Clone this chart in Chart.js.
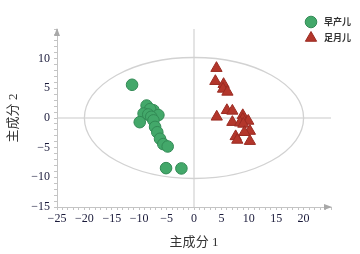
<!DOCTYPE html>
<html>
<head>
<meta charset="utf-8">
<script src="https://cdn.jsdelivr.net/npm/chart.js@4/dist/chart.umd.min.js"></script>
<style>
  html, body { margin: 0; padding: 0; background: #fff; }
  canvas { display: block; }
</style>
</head>
<body>
<canvas id="pca" width="360" height="254"></canvas>
<script>
// PCA score plot — preterm vs full-term
const seriesNames = ['早产儿', '足月儿'];

const pretermX = [-11.3, -8.65, -7.4, -8.0, -9.2, -8.35, -6.5, -7.8, -9.9, -7.4, -7.1, -6.7, -6.2, -5.6, -4.8, -5.1, -2.3];
const pretermY = [5.6, 2.1, 1.3, 1.5, 0.75, 0.6, 0.5, 0.2, -0.7, -0.4, -1.5, -2.4, -3.5, -4.4, -4.8, -8.45, -8.5];

const termX = [4.1, 3.9, 5.4, 5.3, 6.1, 4.15, 6.0, 7.0, 8.9, 8.9, 7.0, 8.4, 9.9, 9.0, 10.2, 9.2, 7.6, 7.9, 10.2];
const termY = [8.4, 6.2, 5.7, 4.9, 4.4, 0.2, 1.3, 1.2, 0.45, -0.2, -0.7, -0.8, -0.5, -1.0, -2.2, -2.4, -3.1, -3.7, -3.9];

// axis ranges and labels
const xRange = [-25, 25];
const yRange = [-15, 15];
const xTitle = '主成分 1';
const yTitle = '主成分 2';
// 95% confidence ellipse half-axes
const ellipseRx = 20;
const ellipseRy = 10.2;

const toPoints = (xs, ys) => xs.map((x, i) => ({ x: x, y: ys[i] }));
const minus = v => (v < 0 ? '\u2212' + Math.abs(v) : String(v));

const serif = "'Liberation Serif', 'Noto Sans CJK SC', serif";

// ellipse, zero lines, axis arrows and a small legend box
const decor = {
  id: 'decor',
  beforeDatasetsDraw(chart) {
    const { ctx, chartArea: a, scales: { x, y } } = chart;
    ctx.save();
    ctx.strokeStyle = '#c9c9c9';
    ctx.lineWidth = 1;
    ctx.beginPath();
    ctx.moveTo(x.getPixelForValue(0), a.top);
    ctx.lineTo(x.getPixelForValue(0), a.bottom);
    ctx.moveTo(a.left, y.getPixelForValue(0));
    ctx.lineTo(a.right, y.getPixelForValue(0));
    ctx.stroke();

    const cx = x.getPixelForValue(0), cy = y.getPixelForValue(0);
    const rx = x.getPixelForValue(ellipseRx) - cx;
    const ry = cy - y.getPixelForValue(ellipseRy);
    ctx.strokeStyle = '#d2d2d2';
    ctx.lineWidth = 1.3;
    ctx.beginPath();
    ctx.ellipse(cx, cy, rx, ry, 0, 0, Math.PI * 2);
    ctx.stroke();

    // arrow heads
    ctx.fillStyle = '#a8a8a8';
    ctx.beginPath();
    ctx.moveTo(a.right + 1, a.bottom);
    ctx.lineTo(a.right - 7, a.bottom - 3);
    ctx.lineTo(a.right - 7, a.bottom + 3);
    ctx.fill();
    ctx.beginPath();
    ctx.moveTo(a.left, a.top - 1);
    ctx.lineTo(a.left - 3, a.top + 7);
    ctx.lineTo(a.left + 3, a.top + 7);
    ctx.fill();
    ctx.restore();
  },
  afterDraw(chart) {
    const { ctx } = chart;
    ctx.save();
    chart.data.datasets.forEach((ds, i) => {
      const px = 311, py = 22 + i * 16;
      ctx.fillStyle = ds.backgroundColor;
      ctx.strokeStyle = ds.borderColor;
      ctx.lineWidth = 1;
      Chart.helpers.drawPoint(ctx, { pointStyle: ds.pointStyle, radius: ds.pointRadius, borderWidth: 1 }, px, py);
      ctx.fillStyle = '#333';
      ctx.font = "bold 9px 'Noto Sans CJK SC', sans-serif";
      ctx.textBaseline = 'middle';
      ctx.fillText(ds.label, 324, py);
    });
    ctx.restore();
  }
};

new Chart(document.getElementById('pca'), {
  type: 'scatter',
  data: {
    datasets: [
      {
        label: seriesNames[0],
        data: toPoints(pretermX, pretermY),
        pointStyle: 'circle',
        pointRadius: 5.8,
        backgroundColor: '#43a86a',
        borderColor: '#328a55',
        borderWidth: 1
      },
      {
        label: seriesNames[1],
        data: toPoints(termX, termY),
        pointStyle: 'triangle',
        pointRadius: 6.5,
        backgroundColor: '#b3362b',
        borderColor: '#9a2b22',
        borderWidth: 1
      }
    ]
  },
  options: {
    responsive: false,
    animation: false,
    devicePixelRatio: 1,
    layout: { padding: { top: 29, right: 29, left: 0, bottom: 0 } },
    plugins: {
      legend: { display: false },
      tooltip: { enabled: false }
    },
    scales: {
      x: {
        type: 'linear',
        min: xRange[0],
        max: xRange[1],
        afterFit: s => { s.height = 47; },
        grid: { drawOnChartArea: false, color: '#c4c4c4', tickLength: 3, tickColor: '#c4c4c4' },
        border: { color: '#c4c4c4', width: 1 },
        ticks: {
          stepSize: 1,
          autoSkip: false,
          maxRotation: 0,
          padding: 2,
          color: '#1a1a3a',
          font: { family: serif, size: 12 },
          callback: v => (v % 5 === 0 && v <= 20 ? minus(v) : '')
        },
        title: {
          display: true,
          text: xTitle,
          color: '#333',
          font: { family: serif, size: 13 },
          padding: { top: 6 }
        }
      },
      y: {
        type: 'linear',
        min: yRange[0],
        max: yRange[1],
        afterFit: s => { s.width = 57; },
        grid: { drawOnChartArea: false, color: '#c4c4c4', tickLength: 3, tickColor: '#c4c4c4' },
        border: { color: '#c4c4c4', width: 1 },
        ticks: {
          stepSize: 1,
          autoSkip: false,
          padding: 4,
          color: '#1a1a3a',
          font: { family: serif, size: 12 },
          callback: v => (v % 5 === 0 && v <= 10 ? minus(v) : '')
        },
        title: {
          display: true,
          text: yTitle,
          color: '#333',
          font: { family: serif, size: 13 },
          padding: { top: 6, bottom: 0 }
        }
      }
    }
  },
  plugins: [decor]
});
</script>
</body>
</html>
